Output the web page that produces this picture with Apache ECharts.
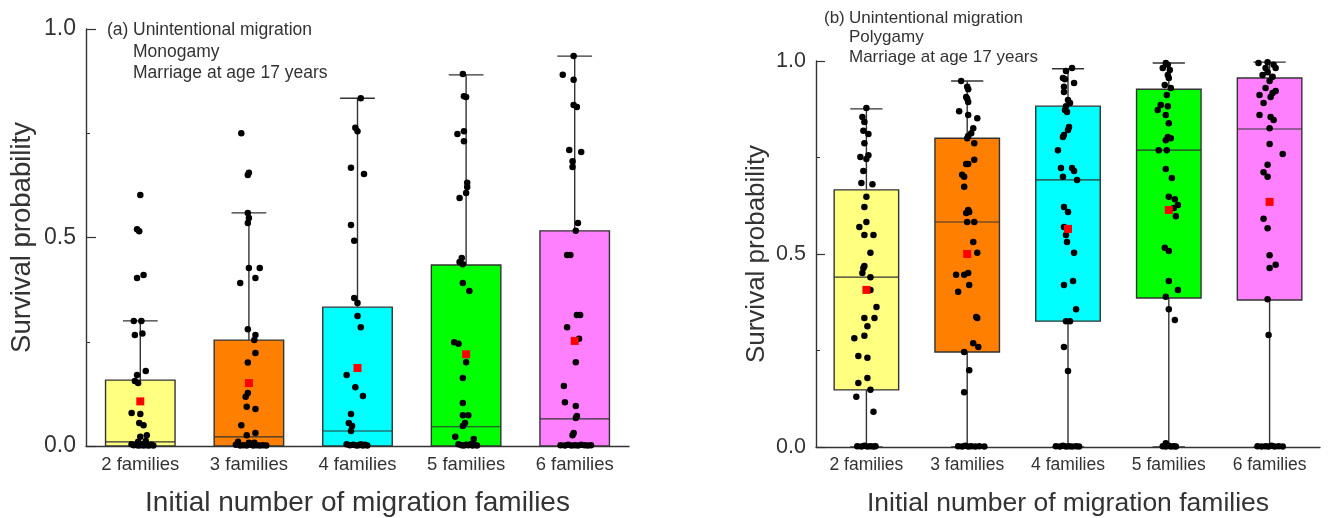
<!DOCTYPE html>
<html>
<head>
<meta charset="utf-8">
<script src="https://cdn.jsdelivr.net/npm/echarts@6/dist/echarts.min.js"></script>
<style>
  html, body { margin: 0; padding: 0; background: #fff; }
  #chart { width: 1328px; height: 518px; }
</style>
</head>
<body>
<div id="chart"></div>
<script>
// Survival probability by initial number of migration families
const categories = ['2 families', '3 families', '4 families', '5 families', '6 families'];

// Box statistics per category: [min, Q1, median, Q3, max]
const monoBoxes = [
  [0, 0, 0.010, 0.158, 0.300],
  [0, 0, 0.022, 0.254, 0.559],
  [0, 0, 0.036, 0.333, 0.834],
  [0, 0, 0.046, 0.434, 0.890],
  [0, 0, 0.065, 0.516, 0.935]
];
const polyBoxes = [
  [0, 0.148, 0.440, 0.666, 0.876],
  [0, 0.246, 0.583, 0.800, 0.948],
  [0, 0.326, 0.692, 0.883, 0.980],
  [0, 0.386, 0.769, 0.927, 0.995],
  [0, 0.381, 0.824, 0.956, 0.997]
];

// Means per category
const monoMeans = [0.107, 0.151, 0.187, 0.220, 0.252];
const polyMeans = [0.407, 0.500, 0.565, 0.614, 0.635];

// Individual runs per category: [survival probability, jitter]
const monoRuns = [
  [[0.602,0],[0.52,-0.03],[0.515,-0.01],[0.41,0.03],[0.403,-0.03],[0.30,-0.06],[0.30,0.01],[0.266,-0.05],[0.27,0.02],
   [0.18,0.05],[0.17,-0.03],[0.156,-0.05],[0.151,-0.02],[0.079,-0.08],[0.077,0],[0.055,-0.01],[0.05,0.03],[0.026,0.06],
   [0.022,0],[0.012,0.05],[0.01,-0.02],[0.004,-0.08],[0.002,-0.06],[0.003,-0.04],[0.001,-0.02],[0.002,0],[0.004,0.01],
   [0.001,0.03],[0.003,0.04],[0.002,0.06],[0.001,0.08],[0.003,0.1],[0.001,0.12]],
  [[0.75,-0.07],[0.655,0],[0.65,-0.01],[0.559,-0.01],[0.547,0],[0.535,-0.01],[0.427,0],[0.427,0.1],[0.403,0.06],[0.391,-0.08],
   [0.28,-0.01],[0.266,0.06],[0.254,0.05],[0.223,0.06],[0.20,-0.01],[0.127,-0.01],[0.118,-0.03],[0.094,-0.02],[0.089,0.06],
   [0.05,-0.07],[0.026,-0.02],[0.031,0.06],[0.01,-0.1],[0.008,0],[0.008,0.05],[0.003,-0.12],[0.001,-0.08],[0.002,-0.05],
   [0.001,-0.02],[0.003,0.02],[0.001,0.04],[0.002,0.07],[0.001,0.1],[0.002,0.13],[0.001,0.16]],
  [[0.834,0.03],[0.763,-0.02],[0.755,0],[0.667,-0.06],[0.652,0.06],[0.53,-0.06],[0.492,-0.03],[0.355,-0.03],[0.343,0],
   [0.312,0],[0.285,0.03],[0.17,-0.1],[0.141,-0.02],[0.12,0.05],[0.077,-0.06],[0.055,-0.08],[0.048,-0.05],[0.036,-0.06],
   [0.004,-0.1],[0.002,-0.07],[0.003,-0.04],[0.001,-0.01],[0.002,0.01],[0.004,0.03],[0.001,0.05],[0.003,0.07],[0.001,0.09]],
  [[0.892,-0.03],[0.839,-0.02],[0.837,0],[0.755,-0.02],[0.748,-0.08],[0.731,-0.02],[0.631,0.01],[0.621,0.01],[0.607,0],
   [0.595,-0.06],[0.451,-0.04],[0.441,-0.06],[0.436,-0.03],[0.391,-0.03],[0.372,0.03],[0.249,-0.11],[0.245,-0.07],
   [0.22,0],[0.201,0],[0.163,-0.03],[0.103,-0.03],[0.074,-0.03],[0.074,0.02],[0.055,-0.01],[0.048,-0.03],[0.022,-0.1],
   [0.017,0.07],[0.004,-0.07],[0.002,-0.04],[0.001,-0.02],[0.003,0],[0.002,0.02],[0.004,0.04],[0.001,0.06],[0.003,0.08],[0.001,0.1]],
  [[0.935,-0.01],[0.89,-0.11],[0.878,-0.01],[0.818,-0.01],[0.813,0.02],[0.71,-0.05],[0.705,0.06],[0.683,-0.02],[0.669,-0.02],
   [0.535,0.03],[0.516,0.01],[0.458,-0.07],[0.458,-0.04],[0.314,0.02],[0.314,0.05],[0.285,-0.07],[0.257,0.04],[0.201,0.01],
   [0.144,-0.1],[0.105,-0.09],[0.096,0.01],[0.072,0.02],[0.067,0.01],[0.031,-0.01],[0.026,-0.02],[0.002,-0.13],[0.001,-0.09],
   [0.003,-0.06],[0.001,-0.03],[0.002,0],[0.001,0.03],[0.003,0.06],[0.002,0.09],[0.001,0.12],[0.002,0.15]]
];
const polyRuns = [
  [[0.878,0],[0.855,-0.04],[0.842,-0.02],[0.819,-0.03],[0.811,0.02],[0.787,-0.02],[0.751,-0.06],[0.756,0.02],[0.746,0],
   [0.715,-0.03],[0.684,-0.05],[0.681,0.06],[0.648,0],[0.622,-0.02],[0.583,0],[0.57,-0.07],[0.549,-0.02],[0.549,0.07],
   [0.503,0.04],[0.469,-0.02],[0.464,-0.03],[0.451,-0.04],[0.44,0.04],[0.407,0.04],[0.363,0.1],[0.334,-0.02],[0.334,0.08],
   [0.313,0.01],[0.282,-0.12],[0.288,-0.02],[0.236,-0.08],[0.231,0.01],[0.179,0.01],[0.166,-0.08],[0.148,0.04],[0.13,-0.1],
   [0.091,0.07],[0.002,-0.09],[0.001,-0.05],[0.003,-0.02],[0.001,0.01],[0.002,0.04],[0.001,0.07],[0.002,0.09]],
  [[0.948,-0.06],[0.933,0],[0.927,0.01],[0.907,-0.01],[0.902,0],[0.894,0.01],[0.87,-0.08],[0.86,0.01],[0.852,0.1],
   [0.826,0.06],[0.813,0.04],[0.806,0.01],[0.80,0],[0.787,0.07],[0.744,0.07],[0.733,-0.01],[0.733,0.01],[0.705,-0.05],
   [0.70,-0.03],[0.674,-0.03],[0.614,0.01],[0.609,0.02],[0.606,-0.01],[0.583,0],[0.583,0.07],[0.531,0.06],[0.503,0.1],
   [0.446,-0.11],[0.446,-0.03],[0.451,0.01],[0.42,0.02],[0.402,-0.09],[0.337,0.09],[0.334,0.1],[0.269,0.06],[0.259,0.11],
   [0.246,-0.03],[0.199,0.02],[0.142,-0.03],[0.002,-0.09],[0.001,-0.05],[0.003,-0.02],[0.001,0.01],[0.002,0.04],
   [0.001,0.08],[0.002,0.12],[0.001,0.17]],
  [[0.982,0.04],[0.974,-0.02],[0.956,-0.05],[0.953,-0.03],[0.943,0.06],[0.933,-0.04],[0.92,-0.04],[0.899,0],[0.891,0.02],
   [0.883,-0.02],[0.873,-0.03],[0.868,-0.01],[0.829,0.01],[0.821,0],[0.803,-0.05],[0.808,-0.04],[0.769,-0.1],[0.723,-0.07],
   [0.723,0.04],[0.715,0.06],[0.70,-0.05],[0.692,0.09],[0.622,-0.04],[0.609,0],[0.57,-0.04],[0.549,-0.02],[0.531,-0.01],
   [0.503,0.06],[0.42,-0.04],[0.43,0.05],[0.357,0.08],[0.326,-0.02],[0.326,0.02],[0.259,-0.04],[0.197,0],
   [0.002,-0.12],[0.001,-0.08],[0.003,-0.05],[0.001,-0.02],[0.002,0.01],[0.001,0.04],[0.002,0.08],[0.001,0.11]],
  [[0.995,-0.03],[0.99,-0.01],[0.982,-0.06],[0.977,0.01],[0.964,-0.01],[0.956,0],[0.938,-0.04],[0.93,0.02],[0.912,-0.02],
   [0.886,-0.08],[0.883,-0.01],[0.873,-0.11],[0.86,-0.03],[0.839,0],[0.803,-0.01],[0.80,0.02],[0.795,-0.03],[0.769,-0.1],
   [0.769,-0.02],[0.72,-0.03],[0.697,0.03],[0.648,0],[0.642,0.06],[0.627,0.09],[0.619,0.05],[0.598,0.07],[0.516,-0.04],
   [0.508,0],[0.43,0],[0.407,0.09],[0.389,-0.03],[0.357,0],[0.329,0.06],[0.01,-0.03],[0.002,-0.06],[0.001,-0.03],
   [0.003,0],[0.001,0.02],[0.002,0.05],[0.001,0.07]],
  [[0.997,-0.02],[0.995,-0.11],[0.99,0.04],[0.982,-0.04],[0.982,0.06],[0.971,-0.02],[0.964,-0.07],[0.959,0.03],[0.948,0],
   [0.93,-0.04],[0.922,0.06],[0.917,0.03],[0.912,-0.1],[0.907,0.01],[0.891,-0.06],[0.86,-0.1],[0.855,0.01],[0.847,0.04],
   [0.826,0],[0.785,0],[0.759,0.13],[0.731,-0.02],[0.712,-0.06],[0.70,-0.02],[0.591,-0.06],[0.567,-0.02],[0.497,0],
   [0.464,0],[0.472,0.06],[0.383,-0.02],[0.29,-0.01],[0.002,-0.12],[0.001,-0.08],[0.002,-0.04],[0.001,-0.01],
   [0.003,0.02],[0.001,0.05],[0.002,0.09],[0.001,0.13]]
];

// Panel captions
const captionA = ['(a)', 'Unintentional migration', 'Monogamy', 'Marriage at age 17 years'];
const captionB = ['(b)', 'Unintentional migration', 'Polygamy', 'Marriage at age 17 years'];

const boxColors = ['#FFFF80', '#FF8000', '#00FFFF', '#00FF00', '#FF80FF'];
const inkColor = '#333333';
const FONT = 'Liberation Sans, Arial, sans-serif';

function renderBox(params, api) {
  const idx = api.value(0);
  const pMin = api.coord([idx, api.value(1)]);
  const pQ1 = api.coord([idx, api.value(2)]);
  const pMed = api.coord([idx, api.value(3)]);
  const pQ3 = api.coord([idx, api.value(4)]);
  const pMax = api.coord([idx, api.value(5)]);
  const band = api.size([1, 0])[0];
  const w = band * 0.64;
  const cap = w * 0.5;
  const x = pQ1[0];
  const lineStyle = { stroke: inkColor, lineWidth: 1.4 };
  return {
    type: 'group',
    children: [
      { type: 'line', shape: { x1: x, y1: pQ3[1], x2: x, y2: pMax[1] }, style: lineStyle },
      { type: 'line', shape: { x1: x, y1: pQ1[1], x2: x, y2: pMin[1] }, style: lineStyle },
      { type: 'line', shape: { x1: x - cap / 2, y1: pMax[1], x2: x + cap / 2, y2: pMax[1] }, style: lineStyle },
      { type: 'line', shape: { x1: x - cap / 2, y1: pMin[1], x2: x + cap / 2, y2: pMin[1] }, style: lineStyle },
      { type: 'rect', shape: { x: x - w / 2, y: pQ3[1], width: w, height: pQ1[1] - pQ3[1] },
        style: { fill: boxColors[idx], stroke: inkColor, lineWidth: 1.4 } },
      { type: 'line', shape: { x1: x - w / 2, y1: pMed[1], x2: x + w / 2, y2: pMed[1] },
        style: { stroke: inkColor, lineWidth: 1.1 } }
    ]
  };
}

function boxData(boxes) {
  return boxes.map((b, i) => [i].concat(b));
}
function runData(runs) {
  const out = [];
  runs.forEach((list, i) => list.forEach(r => out.push([i + r[1], r[0]])));
  return out;
}
function meanData(means) {
  return means.map((m, i) => [i, m]);
}

function yAxisFor(grid, fontSize, nameSize, nameGap, tickLen) {
  return {
    type: 'value', gridIndex: grid, min: 0, max: 1, interval: 0.5,
    name: 'Survival probability', nameLocation: 'middle', nameGap: nameGap,
    nameTextStyle: { fontFamily: FONT, fontSize: nameSize, color: inkColor },
    axisLine: { show: true, onZero: false, lineStyle: { color: inkColor, width: 1.4 } },
    axisTick: { show: true, inside: true, length: tickLen, lineStyle: { color: inkColor, width: 1.2 } },
    minorTick: { show: true, splitNumber: 2, length: 4, lineStyle: { color: inkColor, width: 1 } },
    splitLine: { show: false },
    axisLabel: { fontFamily: FONT, fontSize: fontSize, color: inkColor, margin: 10,
      formatter: v => v.toFixed(1) }
  };
}
function xCatFor(grid, fontSize, nameSize, nameGap) {
  return {
    type: 'category', gridIndex: grid, data: categories,
    name: 'Initial number of migration families', nameLocation: 'middle', nameGap: nameGap,
    nameTextStyle: { fontFamily: FONT, fontSize: nameSize, color: inkColor },
    axisLine: { show: true, onZero: false, lineStyle: { color: inkColor, width: 1.4 } },
    axisTick: { show: false },
    axisLabel: { fontFamily: FONT, fontSize: fontSize, color: inkColor, margin: 9 },
    splitLine: { show: false }
  };
}
function xJitterFor(grid) {
  return { type: 'value', gridIndex: grid, min: -0.5, max: 4.5, show: false,
    axisLine: { onZero: false }, splitLine: { show: false } };
}

function captionGraphics(lines, x0, x1, y0, dy, size) {
  const base = { fontFamily: FONT, fontSize: size, fill: inkColor };
  return [
    { type: 'text', left: x0, top: y0 - size * 0.6, style: Object.assign({ text: lines[0] }, base) },
    { type: 'text', left: x1, top: y0 - size * 0.6, style: Object.assign({ text: lines[1] }, base) },
    { type: 'text', left: x1, top: y0 + dy - size * 0.6, style: Object.assign({ text: lines[2] }, base) },
    { type: 'text', left: x1, top: y0 + 2 * dy - size * 0.6, style: Object.assign({ text: lines[3] }, base) }
  ];
}

const chart = echarts.init(document.getElementById('chart'), null, { renderer: 'canvas' });

function panelSeries(grid, boxes, runs, means) {
  const xc = grid * 2, xj = grid * 2 + 1;
  return [
    { type: 'custom', xAxisIndex: xc, yAxisIndex: grid, renderItem: renderBox,
      encode: { x: 0, y: [1, 2, 3, 4, 5] }, data: boxData(boxes), z: 2, silent: true },
    { type: 'scatter', xAxisIndex: xj, yAxisIndex: grid, data: runData(runs), symbol: 'circle',
      symbolSize: 6.5, itemStyle: { color: '#000', opacity: 1 }, z: 3, silent: true, clip: false },
    { type: 'scatter', xAxisIndex: xc, yAxisIndex: grid, data: meanData(means), symbol: 'rect',
      symbolSize: 8, itemStyle: { color: '#FF0000', opacity: 1 }, z: 4, silent: true }
  ];
}

chart.setOption({
  animation: false,
  backgroundColor: '#ffffff',
  grid: [
    { left: 86, top: 29, width: 543, height: 417, outerBoundsMode: 'none', containLabel: false },
    { left: 816, top: 61, width: 504, height: 386, outerBoundsMode: 'none', containLabel: false }
  ],
  xAxis: [
    xCatFor(0, 18.5, 28, 43), xJitterFor(0),
    xCatFor(1, 17.5, 26.5, 43), xJitterFor(1)
  ],
  yAxis: [
    yAxisFor(0, 23, 27.5, 50, 10),
    yAxisFor(1, 21.5, 26, 46, 9)
  ],
  series: panelSeries(0, monoBoxes, monoRuns, monoMeans)
    .concat(panelSeries(1, polyBoxes, polyRuns, polyMeans)),
  graphic: captionGraphics(captionA, 107, 133, 32, 21.5, 17.5)
    .concat(captionGraphics(captionB, 824, 849, 20, 19.5, 17))
});
</script>
</body>
</html>
